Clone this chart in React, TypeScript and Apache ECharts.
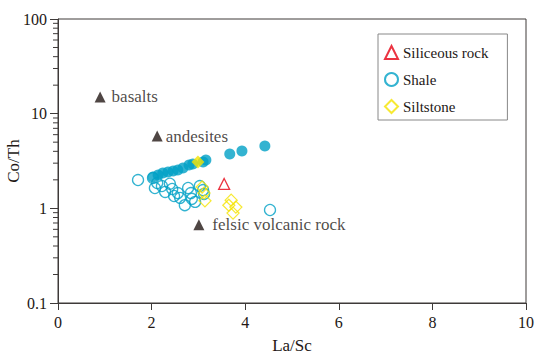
import React, { useEffect, useRef } from "react";
import * as echarts from "echarts";

// Reference rock types (La/Sc, Co/Th)
const refNames = ["basalts", "andesites", "felsic volcanic rock"];
const refX = [0.9, 2.12, 3.01];
const refY = [15.0, 5.8, 0.67];
const refLabelGap = [6, 3, 8];

// Siliceous rock
const silX = [3.55];
const silY = [1.81];

// Shale (filled)
const shaleFX = [2.03, 2.14, 2.24, 2.35, 2.46, 2.56, 2.67, 2.8, 2.88, 3.1, 3.16, 3.67, 3.93, 4.42];
const shaleFY = [2.14, 2.25, 2.36, 2.42, 2.48, 2.54, 2.67, 2.87, 2.94, 3.08, 3.24, 3.75, 4.03, 4.55];

// Shale (open)
const shaleOX = [1.71, 2.03, 2.07, 2.12, 2.22, 2.29, 2.39, 2.44, 2.48, 2.56, 2.61, 2.71, 2.78, 2.84, 2.86, 2.93, 3.03, 3.1, 3.12, 4.53];
const shaleOY = [1.99, 2.09, 1.64, 1.85, 1.72, 1.49, 1.82, 1.6, 1.35, 1.45, 1.29, 1.08, 1.64, 1.45, 1.26, 1.17, 1.72, 1.56, 1.42, 0.96];

// Siltstone (open)
const siltOX = [3.08, 3.12, 3.14, 3.7, 3.65, 3.8, 3.74];
const siltOY = [1.68, 1.45, 1.2, 1.22, 1.08, 1.03, 0.89];

// Siltstone (filled)
const siltFX = [2.99];
const siltFY = [3.08];

const xTicks = [0, 2, 4, 6, 8, 10];
const yTicks = [0.1, 1, 10, 100];
const yMinor = [0.2, 0.3, 0.4, 0.5, 0.6, 0.7, 0.8, 0.9, 2, 3, 4, 5, 6, 7, 8, 9, 20, 30, 40, 50, 60, 70, 80, 90];

const SERIF = "Liberation Serif";
const INK = "#231815";
const AXIS = "#3e3a39";
const CYAN = "#00a0c6";
const YELLOW = "#f5e300";
const RED = "#e60012";

const zip = (xs: number[], ys: number[]) => xs.map((x, i) => [x, ys[i]]);

export default function App() {
  const ref = useRef<HTMLDivElement>(null);
  useEffect(() => {
    if (!ref.current) return;
    const chart = echarts.init(ref.current, null, { renderer: "svg" });
    chart.setOption({
      animation: false,
      backgroundColor: "#fff",
      textStyle: { fontFamily: SERIF },
      grid: {
        left: 58,
        right: 24,
        top: 19,
        bottom: 57,
        containLabel: false,
        outerBoundsMode: "none",
        show: true,
        borderColor: AXIS,
        borderWidth: 1,
        backgroundColor: "transparent",
      },
      legend: {
        data: ["Siliceous rock", "Shale", "Siltstone"],
        orient: "vertical",
        left: 378,
        top: 34,
        padding: [11, 19, 6, 6],
        itemGap: 12,
        itemWidth: 13,
        itemHeight: 13,
        borderColor: "#888",
        borderWidth: 1,
        textStyle: { fontFamily: SERIF, fontSize: 15, color: INK },
      },
      xAxis: {
        type: "value",
        min: 0,
        max: 10,
        interval: 2,
        name: "La/Sc",
        nameLocation: "middle",
        nameGap: 34,
        nameMoveOverlap: false,
        nameTextStyle: { fontFamily: SERIF, fontSize: 17, color: INK },
        axisLine: { show: true, lineStyle: { color: AXIS, width: 1 } },
        axisTick: { show: true, length: 7, lineStyle: { color: AXIS } },
        axisLabel: {
          fontFamily: SERIF,
          fontSize: 16,
          color: INK,
          margin: 11,
          customValues: xTicks,
        },
        splitLine: { show: false },
      },
      yAxis: {
        type: "log",
        logBase: 10,
        min: 0.1,
        max: 100,
        name: "Co/Th",
        nameLocation: "middle",
        nameGap: 36,
        nameMoveOverlap: false,
        nameTextStyle: { fontFamily: SERIF, fontSize: 17, color: INK },
        axisLine: { show: true, lineStyle: { color: AXIS, width: 1 } },
        axisTick: { show: true, length: 8, lineStyle: { color: AXIS } },
        axisLabel: {
          fontFamily: SERIF,
          fontSize: 16,
          color: INK,
          margin: 11,
          formatter: (v: number) => {
            const t = yTicks.find((k) => Math.abs(k - v) < 1e-9);
            return t === undefined ? String(v) : String(t);
          },
        },
        splitLine: { show: false },
      },
      series: [
        {
          type: "custom",
          name: "minorTicks",
          clip: false,
          silent: true,
          data: yMinor.map((v) => [0, v]),
          renderItem: (params: any, api: any) => {
            const p = api.coord([0, api.value(1)]);
            return {
              type: "line",
              shape: { x1: p[0] - 5, y1: p[1], x2: p[0], y2: p[1] },
              style: { stroke: AXIS, lineWidth: 1 },
            };
          },
        },
        {
          type: "scatter",
          name: "ShaleFilled",
          symbol: "circle",
          symbolSize: 11,
          itemStyle: { color: CYAN },
          data: zip(shaleFX, shaleFY),
        },
        {
          type: "scatter",
          name: "Shale",
          symbol: "circle",
          symbolSize: 11,
          itemStyle: { color: "rgba(255,255,255,0)", borderColor: CYAN, borderWidth: 1.3 },
          data: zip(shaleOX, shaleOY),
        },
        {
          type: "scatter",
          name: "Siltstone",
          symbol: "diamond",
          symbolSize: 12,
          itemStyle: { color: "rgba(255,255,255,0)", borderColor: YELLOW, borderWidth: 1.3 },
          data: zip(siltOX, siltOY),
        },
        {
          type: "scatter",
          name: "SiltFilled",
          symbol: "diamond",
          symbolSize: 13,
          itemStyle: { color: YELLOW },
          data: zip(siltFX, siltFY),
        },
        {
          type: "scatter",
          name: "Siliceous rock",
          symbol: "triangle",
          symbolSize: 11,
          itemStyle: { color: "rgba(255,255,255,0)", borderColor: RED, borderWidth: 1.3 },
          data: zip(silX, silY),
        },
        {
          type: "scatter",
          name: "ref",
          symbol: "triangle",
          symbolSize: 11,
          itemStyle: { color: INK },
          label: {
            show: true,
            position: "right",
            fontFamily: SERIF,
            fontSize: 17,
            color: INK,
            formatter: (p: any) => p.name,
          },
          data: refNames.map((n, i) => ({
            name: n,
            value: [refX[i], refY[i]],
            label: { distance: refLabelGap[i] },
          })),
        },
      ],
    });
    return () => chart.dispose();
  }, []);
  return (
    <div
      ref={ref}
      style={{ position: "fixed", left: 0, top: 0, width: 550, height: 360, background: "#fff" }}
    />
  );
}
